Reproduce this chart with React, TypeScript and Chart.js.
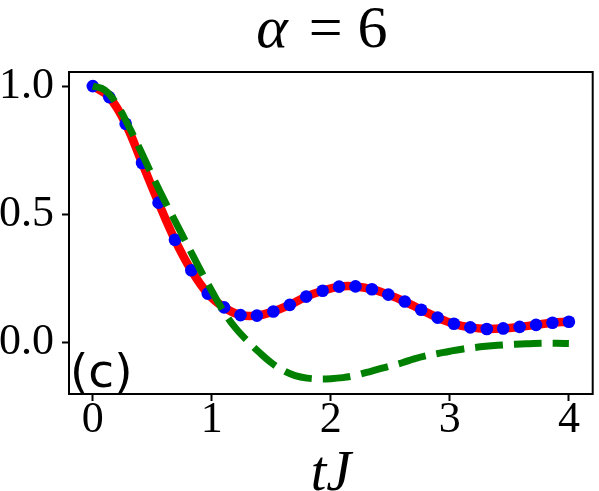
import React, { useEffect, useRef } from "react";
import { Chart, registerables } from "chart.js";

Chart.register(...registerables);

// Blue dots / red line (same curve)
const blueT = [0, 0.138, 0.276, 0.414, 0.552, 0.69, 0.828, 0.966, 1.103, 1.241, 1.379, 1.517, 1.655, 1.793, 1.931, 2.069, 2.207, 2.345, 2.483, 2.621, 2.759, 2.897, 3.034, 3.172, 3.31, 3.448, 3.586, 3.724, 3.862, 4.0];
const blueY = [1.0, 0.957, 0.853, 0.7, 0.545, 0.4, 0.281, 0.19, 0.136, 0.106, 0.104, 0.12, 0.146, 0.178, 0.201, 0.217, 0.218, 0.207, 0.186, 0.159, 0.127, 0.096, 0.072, 0.058, 0.052, 0.054, 0.06, 0.068, 0.076, 0.08];

// Green dashed curve
const greenT = [0, 0.1, 0.2, 0.3, 0.4, 0.5, 0.6, 0.7, 0.8, 0.9, 1.0, 1.1, 1.2, 1.3, 1.4, 1.5, 1.6, 1.7, 1.8, 1.9, 2.0, 2.1, 2.2, 2.3, 2.4, 2.5, 2.6, 2.7, 2.8, 2.9, 3.0, 3.1, 3.2, 3.3, 3.4, 3.5, 3.6, 3.7, 3.8, 3.9, 4.0];
const greenY = [1.0, 0.985, 0.93, 0.845, 0.75, 0.65, 0.555, 0.465, 0.375, 0.285, 0.2, 0.12, 0.055, 0.005, -0.04, -0.08, -0.11, -0.13, -0.14, -0.143, -0.142, -0.138, -0.13, -0.118, -0.105, -0.093, -0.08, -0.065, -0.053, -0.044, -0.035, -0.027, -0.021, -0.016, -0.012, -0.009, -0.007, -0.005, -0.004, -0.004, -0.005];

const xTickValues = [0, 1, 2, 3, 4];
const yTickValues = [0.0, 0.5, 1.0];
const xRange = [-0.2, 4.2];
const yRange = [-0.202, 1.055];

const titleGreek = "α";
const titleRest = " = 6";
const xLabel = "tJ";
const panelLabel = "(c)";

const serif = '"Liberation Serif", "Times New Roman", serif';

const decorPlugin = {
  id: "decor",
  afterDraw(chart: any) {
    const { ctx, chartArea } = chart;
    const { left, right, top, bottom } = chartArea;
    ctx.save();
    // frame
    ctx.strokeStyle = "#000";
    ctx.lineWidth = 2;
    ctx.strokeRect(left, top, right - left, bottom - top);
    // panel label
    ctx.fillStyle = "#000";
    ctx.font = '47px "DejaVu Sans"';
    ctx.textBaseline = "alphabetic";
    ctx.textAlign = "left";
    ctx.fillText(panelLabel, left + 1, bottom - 7);
    // title
    const fItalic = "italic 60px " + serif;
    const fUp = "60px " + serif;
    ctx.font = fItalic;
    const w1 = ctx.measureText(titleGreek).width;
    ctx.font = fUp;
    const w2 = ctx.measureText(titleRest).width;
    const total = w1 + w2 + 6;
    const cx = (left + right) / 2 - 9;
    const x0 = cx - total / 2;
    const baseY = 47;
    ctx.font = fItalic;
    ctx.fillText(titleGreek, x0, baseY);
    ctx.font = fUp;
    ctx.fillText(titleRest, x0 + w1 + 6, baseY);
    ctx.restore();
  },
};

export default function App() {
  const ref = useRef<HTMLCanvasElement | null>(null);
  useEffect(() => {
    document.body.style.margin = "0";
    const canvas = ref.current!;
    const chart = new Chart(canvas, {
      type: "line",
      data: {
        datasets: [
          {
            label: "green",
            data: greenT.map((t, i) => ({ x: t, y: greenY[i] })),
            borderColor: "#008000",
            borderWidth: 7,
            borderDash: [28, 11],
            borderCapStyle: "butt",
            pointRadius: 0,
            tension: 0.4,
            fill: false,
            order: 0,
          },
          {
            label: "blue",
            data: blueT.map((t, i) => ({ x: t, y: blueY[i] })),
            showLine: false,
            pointRadius: 6.3,
            pointBackgroundColor: "#0000ff",
            pointBorderWidth: 0,
            pointBorderColor: "#0000ff",
            order: 1,
          },
          {
            label: "red",
            data: blueT.map((t, i) => ({ x: t, y: blueY[i] })),
            borderColor: "#ff0000",
            borderWidth: 8.5,
            pointRadius: 0,
            tension: 0.4,
            fill: false,
            order: 2,
          },
        ],
      },
      options: {
        responsive: false,
        animation: false,
        devicePixelRatio: 1,
        layout: { padding: { top: 72, right: 3, left: 0, bottom: 0 } },
        plugins: { legend: { display: false }, tooltip: { enabled: false }, title: { display: false } },
        scales: {
          x: {
            type: "linear",
            min: xRange[0],
            max: xRange[1],
            border: { display: false },
            grid: { drawOnChartArea: false, drawTicks: true, tickLength: 7, tickWidth: 2, color: "#000" },
            afterBuildTicks: (scale: any) => {
              scale.ticks = xTickValues.map((v) => ({ value: v }));
            },
            afterFit: (scale: any) => {
              scale.height = 97;
              scale.paddingLeft = 0;
              scale.paddingRight = 0;
            },
            ticks: {
              color: "#000",
              padding: -3,
              maxRotation: 0,
              autoSkip: false,
              font: { family: serif, size: 44, lineHeight: 1 },
              callback: (v: any) => String(v),
            },
            title: {
              display: true,
              text: xLabel,
              color: "#000",
              padding: { top: 0, bottom: -12 },
              font: { family: serif, size: 56, style: "italic", lineHeight: 1 },
            },
          },
          y: {
            type: "linear",
            min: yRange[0],
            max: yRange[1],
            border: { display: false },
            grid: { drawOnChartArea: false, drawTicks: true, tickLength: 7, tickWidth: 2, color: "#000" },
            afterBuildTicks: (scale: any) => {
              scale.ticks = yTickValues.map((v) => ({ value: v }));
            },
            afterFit: (scale: any) => {
              scale.width = 69;
              scale.paddingTop = 0;
              scale.paddingBottom = 0;
            },
            ticks: {
              color: "#000",
              padding: 8,
              autoSkip: false,
              font: { family: serif, size: 44, lineHeight: 1 },
              callback: (v: any) => Number(v).toFixed(1),
            },
          },
        },
      },
      plugins: [decorPlugin],
    });
    return () => chart.destroy();
  }, []);
  return (
    <div style={{ width: 599, height: 491, background: "#fff" }}>
      <canvas ref={ref} width={599} height={491} style={{ display: "block", width: 599, height: 491 }} />
    </div>
  );
}
